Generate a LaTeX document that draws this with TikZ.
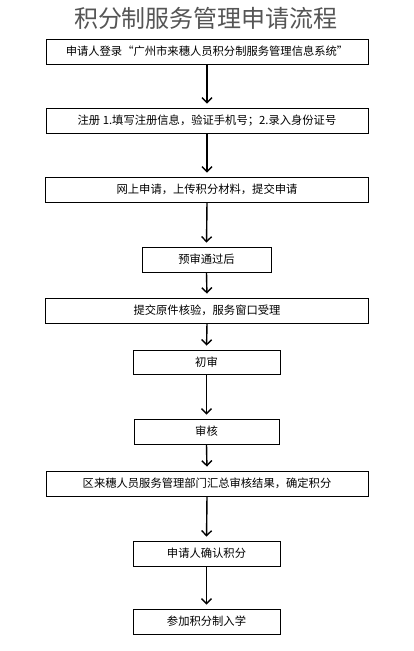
\documentclass[tikz,border=0pt]{standalone}
\usepackage{fontspec}
\newfontfamily\cjk{Noto Sans CJK SC}
\usetikzlibrary{arrows.meta}
\definecolor{titlegray}{RGB}{85,85,85}

\begin{document}
\begin{tikzpicture}[x=1pt,y=-1pt,
  box/.style={draw, line width=0.8pt, inner sep=0pt, minimum height=25pt,
    font=\cjk\fontsize{11.3}{13}\selectfont},
  arr/.style={-{Straight Barb[length=5pt,width=10pt]}, line width=1.4pt, shorten >=4pt}
]

% Canvas
\fill[white] (0,0) rectangle (413,651);
\useasboundingbox (0,0) rectangle (413,651);

% Title
\node[text=titlegray, font=\cjk\fontsize{24}{28}\selectfont] (title) at (206,18) {积分制服务管理申请流程};

% Steps
\node[box, minimum width=322pt] (login)   at (207,51.5)  {申请人登录“广州市来穗人员积分制服务管理信息系统”};
\node[box, minimum width=322pt] (reg)     at (207,120.5) {注册 1.填写注册信息，验证手机号；2.录入身份证号};
\node[box, minimum width=323pt] (apply)   at (207,189.5) {网上申请，上传积分材料，提交申请};
\node[box, minimum width=129pt] (pre)     at (206.5,259.5) {预审通过后};
\node[box, minimum width=323pt] (submit)  at (207,310.5) {提交原件核验，服务窗口受理};
\node[box, minimum width=147pt, minimum height=24pt] (first) at (206.5,362) {初审};
\node[box, minimum width=145pt] (check)   at (206.5,431.5) {审核};
\node[box, minimum width=322pt] (summary) at (207,483.5) {区来穗人员服务管理部门汇总审核结果，确定积分};
\node[box, minimum width=147pt] (confirm) at (206.5,553.5) {申请人确认积分};
\node[box, minimum width=147pt] (enrol)   at (206.5,621.5) {参加积分制入学};

% Arrows
\foreach \a/\b in {login/reg, reg/apply, apply/pre, pre/submit, submit/first,
                   first/check, check/summary, summary/confirm, confirm/enrol}{
  \draw[arr] (\a.south) -- (\b.north);
}

\end{tikzpicture}
\end{document}
